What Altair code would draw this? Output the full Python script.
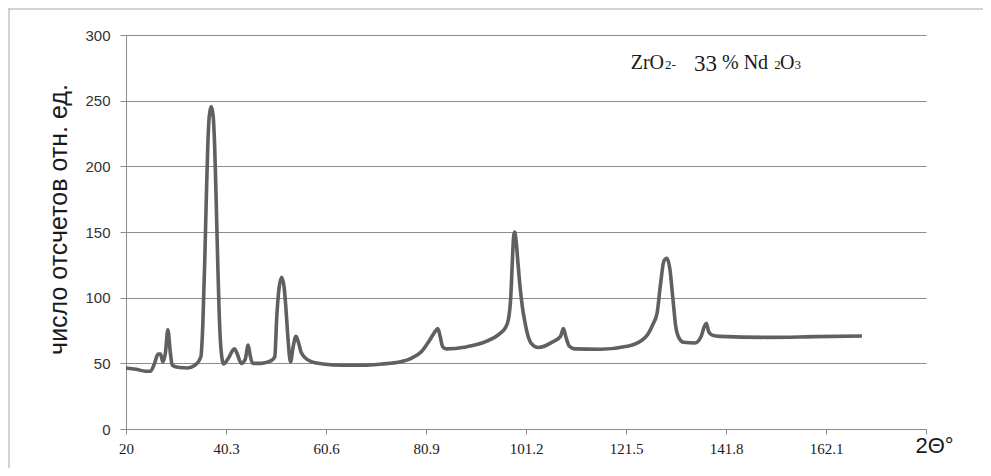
import altair as alt
import pandas as pd

# ---- data ----
two_theta = [
    20.0, 22.0, 24.0, 25.0, 25.8, 26.5, 27.0, 27.5, 28.0, 28.5, 29.0, 29.4,
    30.5, 32.5, 34.0, 35.2, 35.6, 36.0, 36.3, 36.6, 36.9, 37.3, 37.7, 38.0,
    38.3, 38.6, 38.9, 39.3, 39.8, 40.8, 42.0, 42.6, 43.4, 44.2, 44.8, 45.2,
    45.7, 47.5, 49.5, 50.2, 50.6, 51.0, 51.6, 52.1, 52.5, 52.9, 53.4, 53.9,
    54.5, 55.0, 55.6, 57.5, 60.0, 64.0, 68.0, 72.0, 75.5, 78.0, 80.0, 81.7,
    82.7, 83.3, 83.8, 84.3, 85.0, 89.0, 93.0, 96.0, 97.0, 97.6, 98.1, 98.4,
    98.7, 98.9, 99.2, 99.6, 100.0, 100.5, 101.0, 101.6, 102.3, 103.7, 106.7,
    108.2, 108.8, 109.3, 110.0, 111.1, 116.3, 121.7, 124.5, 125.9, 127.0,
    127.8, 128.5, 129.2, 129.8, 130.4, 131.0, 131.6, 132.3, 133.2, 135.5,
    136.7, 137.4, 137.8, 138.3, 139.0, 140.6, 150.0, 160.0, 169.4,
]
counts = [
    46.5, 45.5, 44.0, 44.0, 50.0, 57.0, 57.0, 51.0, 58.0, 75.5, 58.0, 48.5,
    47.0, 46.5, 48.5, 55.0, 80.0, 130.0, 175.0, 215.0, 238.0, 245.5, 238.0, 215.0,
    175.0, 130.0, 90.0, 60.0, 49.5, 54.0, 61.0, 57.0, 50.0, 53.0, 64.0, 56.0,
    50.0, 50.0, 52.0, 55.0, 85.0, 105.0, 115.5, 108.0, 90.0, 68.0, 51.0, 62.0,
    70.5, 66.0, 58.0, 51.5, 49.5, 48.5, 48.5, 49.5, 51.0, 54.0, 59.0, 68.0,
    74.0, 76.5, 70.0, 62.5, 61.0, 62.5, 66.5, 73.0, 77.0, 83.0, 100.0, 125.0,
    147.0, 150.0, 143.0, 125.0, 108.0, 92.0, 81.0, 71.0, 65.0, 62.0, 66.5,
    70.5, 76.5, 70.0, 63.0, 61.0, 60.7, 63.0, 67.0, 72.0, 80.0,
    88.0, 110.0, 128.0, 130.0, 122.0, 100.0, 78.0, 69.0, 66.0, 65.5,
    70.0, 78.0, 80.5, 74.0, 71.5, 70.5, 69.8, 70.3, 70.8,
]
x_ticks = [20, 40.3, 60.6, 80.9, 101.2, 121.5, 141.8, 162.1, 182.4]
y_ticks = [0, 50, 100, 150, 200, 250, 300]
label_parts = ["ZrO", "2-", "33", "% Nd", "2", "O", "3"]
y_title = "число отсчетов отн. ед."
x_title = "2Θ°"

df = pd.DataFrame({"two_theta": two_theta, "counts": counts})
one = pd.DataFrame({"k": [0]})

W, H = 800, 394
GRID = "#8c8c8c"

line = alt.Chart(df).mark_line(
    color="#606060", strokeWidth=3.6, interpolate="monotone"
).encode(
    x=alt.X(
        "two_theta:Q",
        scale=alt.Scale(domain=[20, 182.4], nice=False, zero=False),
        axis=alt.Axis(
            values=x_ticks, grid=False, title=x_title,
            titleX=789, titleY=23, titleAlign="left", titleBaseline="alphabetic",
            titleFont="Liberation Sans", titleFontSize=22, titleFontWeight="normal",
            titleColor="#1a1a1a",
            labelFont="Liberation Serif", labelFontSize=15, labelColor="#1a1a1a",
            labelExpr="datum.value > 180 ? '' : '' + datum.value",
            labelPadding=7, tickSize=5, tickColor=GRID, domainColor=GRID,
            labelFlush=False, labelOverlap=False,
        ),
    ),
    y=alt.Y(
        "counts:Q",
        scale=alt.Scale(domain=[0, 300], nice=False),
        axis=alt.Axis(
            values=y_ticks, grid=True, gridColor=GRID, gridWidth=1, gridOpacity=1,
            title=y_title, titleX=-68, titleY=184, titleAngle=270,
            titleAlign="center", titleBaseline="middle",
            titleFont="Liberation Sans", titleFontSize=25, titleFontWeight="normal",
            titleColor="#1a1a1a",
            labelFont="Liberation Sans", labelFontSize=15, labelColor="#333333",
            labelPadding=10, tickSize=6, tickColor=GRID, domainColor=GRID,
            labelFlush=False,
        ),
    ),
)

frame_top = alt.Chart(one).mark_rule(color="#c4c4c4", strokeWidth=1.5).encode(
    x=alt.value(-118), x2=alt.value(870), y=alt.value(-26)
)
frame_left = alt.Chart(one).mark_rule(color="#c4c4c4", strokeWidth=1.5).encode(
    x=alt.value(-117), y=alt.value(-27), y2=alt.value(445)
)

sizes = [20, 13, 23, 20, 13, 20, 13]
xs = [504.7, 539, 568, 596, 648.3, 654, 668.5]
ys = [34, 34, 35.5, 34, 34, 34, 34]
texts = []
for t, s, xx, yy in zip(label_parts, sizes, xs, ys):
    texts.append(
        alt.Chart(one).mark_text(
            text=t, font="Liberation Serif", fontSize=s, color="#1a1a1a",
            align="left", baseline="alphabetic",
        ).encode(x=alt.value(xx), y=alt.value(yy))
    )

chart = alt.layer(frame_top, frame_left, line, *texts).properties(
    width=W, height=H,
    autosize=alt.AutoSizeParams(type="none"),
    padding={"left": 118, "top": 27, "right": 57, "bottom": 39},
).configure_view(stroke=None)

chart.save("out.html", embed_options={"renderer": "svg", "actions": False})
